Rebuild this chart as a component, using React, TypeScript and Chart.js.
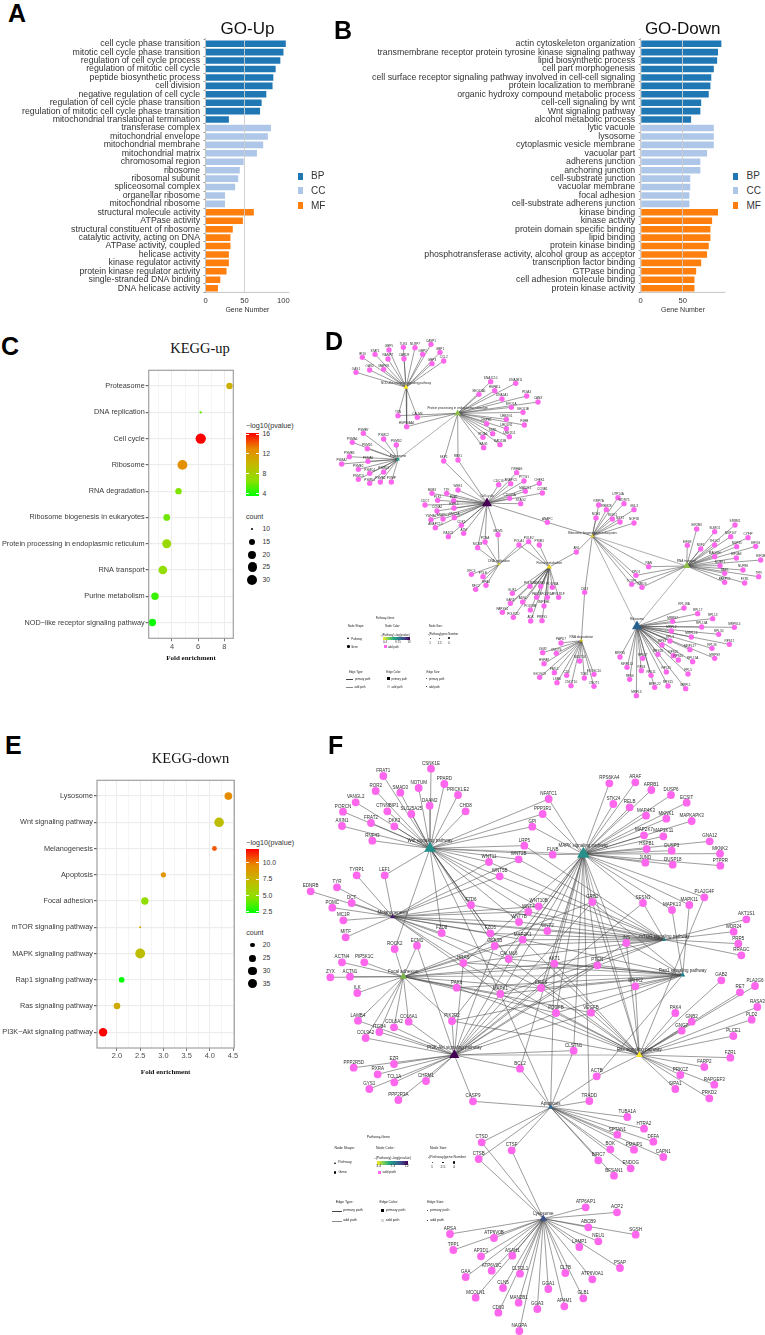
import React, { useEffect, useRef } from "react";
import { Chart, registerables } from "chart.js";
Chart.register(...registerables);

const SANS = '"Liberation Sans", Arial, sans-serif';
const SERIF = '"Liberation Serif", "Times New Roman", serif';

/* ---------- GO bars ---------- */
const groupNames = ["BP", "CC", "MF"];
const groupColors = ["#1f77b4", "#aec7e8", "#ff7f0e"];
const barGroups = [...Array(10).fill(0), ...Array(10).fill(1), ...Array(10).fill(2)];

const upTerms = ["cell cycle phase transition", "mitotic cell cycle phase transition", "regulation of cell cycle process", "regulation of mitotic cell cycle", "peptide biosynthetic process", "cell division", "negative regulation of cell cycle", "regulation of cell cycle phase transition", "regulation of mitotic cell cycle phase transition", "mitochondrial translational termination", "transferase complex", "mitochondrial envelope", "mitochondrial membrane", "mitochondrial matrix", "chromosomal region", "ribosome", "ribosomal subunit", "spliceosomal complex", "organellar ribosome", "mitochondrial ribosome", "structural molecule activity", "ATPase activity", "structural constituent of ribosome", "catalytic activity, acting on DNA", "ATPase activity, coupled", "helicase activity", "kinase regulator activity", "protein kinase regulator activity", "single-stranded DNA binding", "DNA helicase activity"];
const upCounts = [103, 100, 96, 90, 87, 86, 78, 72, 70, 30, 84, 80, 74, 66, 49, 44, 42, 38, 25, 25, 62, 48, 35, 32, 32, 30, 30, 27, 19, 16];
const upTicks = [0, 50, 100];

const downTerms = ["actin cytoskeleton organization", "transmembrane receptor protein tyrosine kinase signaling pathway", "lipid biosynthetic process", "cell part morphogenesis", "cell surface receptor signaling pathway involved in cell-cell signaling", "protein localization to membrane", "organic hydroxy compound metabolic process", "cell-cell signaling by wnt", "Wnt signaling pathway", "alcohol metabolic process", "lytic vacuole", "lysosome", "cytoplasmic vesicle membrane", "vacuolar part", "adherens junction", "anchoring junction", "cell-substrate junction", "vacuolar membrane", "focal adhesion", "cell-substrate adherens junction", "kinase binding", "kinase activity", "protein domain specific binding", "lipid binding", "protein kinase binding", "phosphotransferase activity, alcohol group as acceptor", "transcription factor binding", "GTPase binding", "cell adhesion molecule binding", "protein kinase activity"];
const downCounts = [96, 92, 91, 87, 84, 83, 81, 72, 71, 60, 87, 87, 87, 79, 71, 71, 59, 59, 58, 58, 92, 85, 83, 83, 81, 79, 72, 66, 64, 64];
const downTicks = [0, 50];

/* ---------- KEGG bubbles ---------- */
const keggUpPathways = ["Proteasome", "DNA replication", "Cell cycle", "Ribosome", "RNA degradation", "Ribosome biogenesis in eukaryotes", "Protein processing in endoplasmic reticulum", "RNA transport", "Purine metabolism", "NOD\u2212like receptor signaling pathway"];
const keggUpFold = [8.4, 6.2, 6.2, 4.8, 4.5, 3.6, 3.6, 3.3, 2.7, 2.5];
const keggUpLogP = [10.5, 6, 16, 12.5, 6.5, 6.2, 7.5, 7, 5, 4];
const keggUpCount = [15, 10, 32, 29, 15, 16, 24, 23, 18, 18];
const upLegendCounts = [10, 15, 20, 25, 30];
const upLegendRadii = [1.2, 3.2, 4, 4.6, 5];

const keggDownPathways = ["Lysosome", "Wnt signaling pathway", "Melanogenesis", "Apoptosis", "Focal adhesion", "mTOR signaling pathway", "MAPK signaling pathway", "Rap1 signaling pathway", "Ras signaling pathway", "PI3K\u2212Akt signaling pathway"];
const keggDownFold = [4.4, 4.2, 4.1, 3.0, 2.6, 2.5, 2.5, 2.1, 2.0, 1.7];
const keggDownLogP = [9.5, 7, 10.5, 9, 5, 8, 7, 2.5, 8, 12];
const keggDownCount = [28, 35, 21, 22, 27, 15, 36, 23, 25, 30];
const downLegendCounts = [20, 25, 30, 35];
const downLegendRadii = [2.2, 3.3, 4.2, 4.8];

const heatStops = ["#00ff00", "#8fe000", "#c4b900", "#e88a00", "#ff0000"];

/* ---------- Network D: [name, x, y], [name, x, y, hub indexes] ---------- */
const dHubs: [string, number, number][] = [
  ["NOD-like receptor signaling pathway", 258, 172], ["Protein processing in endoplasmic reticulum", 413, 250], ["Proteasome", 234, 388],
  ["Cell cycle", 501, 520], ["DNA replication", 537, 703], ["Purine metabolism", 688, 711], ["Ribosome biogenesis in eukaryotes", 817, 618],
  ["RNA transport", 1100, 708], ["Ribosome", 951, 889], ["RNA degradation", 784, 932],
];
const dHubLinks = [[1, 2], [6, 7], [6, 8], [7, 8]];
const dGenes: [string, number, number, number[]][] = [
  ["OAS1", 108, 127, [0]], ["IFI16", 127, 82, [0]], ["STAT1", 165, 73, [0]], ["OAS2", 149, 120, [0]], ["MAPK8", 191, 118, [0]], ["GBP5", 207, 60, [0]], ["NAMPT", 204, 87, [0]], ["TLR4", 250, 52, [0]], ["CARD9", 252, 86, [0]], ["NLRP7", 285, 53, [0]], ["GBP2", 308, 73, [0]], ["CASP1", 333, 43, [0]], ["GBP3", 336, 101, [0]], ["GBP1", 360, 67, [0]], ["CCL2", 371, 93, [0]],
  ["TXN", 234, 257, [0, 1]], ["CALM3", 292, 262, [0, 1]], ["HSP90AA1", 260, 290, [0, 1]],
  ["DNAJC10", 512, 155, [1]], ["DNAJB11", 587, 160, [1]], ["SEC61A1", 477, 193, [1]], ["HSPA1L", 524, 182, [1]], ["DNAJA1", 546, 207, [1]], ["PDIA4", 620, 198, [1]], ["CANX", 654, 216, [1]], ["ERO1A", 574, 232, [1]], ["SEC61B", 609, 247, [1]], ["UBE2G1", 559, 268, [1]], ["HSPH1", 500, 281, [1]], ["P4HB", 613, 285, [1]], ["UBQLN1", 559, 296, [1]], ["SSR1", 518, 311, [1]], ["PDIA6", 489, 322, [1]], ["UBE2D1", 568, 320, [1]], ["RAD23B", 540, 344, [1]], ["BAG1", 491, 353, [1]],
  ["SKP1", 371, 393, [1, 3]], ["RBX1", 414, 390, [1, 3]],
  ["PSMB7", 130, 310, [2]], ["PSMC2", 191, 327, [2]], ["PSMD2", 229, 345, [2]], ["PSMA4", 97, 337, [2]], ["PSMD1", 142, 356, [2]], ["PSMB5", 88, 380, [2]], ["PSMA6", 144, 394, [2]], ["PSMA2", 65, 402, [2]], ["PSME2", 115, 418, [2]], ["PSMC4", 149, 430, [2]], ["PSMD3", 191, 426, [2]], ["PSMC3", 115, 448, [2]], ["PSMD4", 149, 460, [2]], ["PSMB2", 181, 456, [2]], ["POMP", 214, 456, [2]],
  ["YWHAG", 590, 428, [3]], ["CDC16", 536, 464, [3]], ["ANAPC5", 572, 461, [3]], ["PTTG1", 612, 453, [3]], ["CHEK1", 658, 460, [3]], ["CCNB1", 667, 489, [3]], ["MAD2L1", 616, 484, [3]], ["CDC25A", 569, 505, [3]], ["STAG2", 602, 521, [3]], ["WEE1", 414, 480, [3]], ["BUB3", 336, 490, [3]], ["TTK", 380, 490, [3]], ["BUB1", 401, 512, [3]], ["CDC7", 315, 525, [3]], ["PLK1", 353, 511, [3]], ["CCNA2", 351, 543, [3]], ["ESPL1", 402, 534, [3]], ["YWHAZ", 333, 569, [3]], ["ANAPC1", 369, 567, [3]], ["SMC1A", 403, 563, [3]], ["ANAPC10", 346, 593, [3]], ["RAD21", 385, 620, [3]], ["CDK1", 424, 586, [3]], ["ATM", 431, 610, [3]],
  ["MCM3", 473, 653, [3, 4]], ["PCNA", 495, 636, [3, 4]], ["MCM5", 534, 614, [3, 4]], ["ANAPC", 682, 577, [3, 6]],
  ["RFC4", 454, 733, [4]], ["POLE", 489, 740, [4]], ["RFC2", 467, 778, [4]], ["RPA1", 498, 766, [4]],
  ["POLA1", 597, 645, [4, 5]], ["POLE2", 626, 635, [4, 5]], ["PRIM1", 658, 645, [5]],
  ["GUK1", 577, 790, [5]], ["POLR2A", 630, 769, [5]], ["NME1", 662, 769, [5]], ["POLR3A", 697, 772, [5]], ["PAICS", 650, 802, [5]], ["POLR1A", 682, 802, [5]], ["POLR1F", 716, 802, [5]], ["ADSL", 608, 816, [5]], ["GART", 571, 820, [5]], ["PAPSS1", 547, 847, [5]], ["POLR2D", 580, 862, [5]], ["POLR3B", 631, 840, [5]], ["IMPDH1", 672, 828, [5]], ["ADK", 632, 873, [5]], ["PRPS1", 666, 872, [5]],
  ["AK6", 769, 666, [5, 6]],
  ["RRP7A", 836, 525, [6]], ["RBM28", 859, 539, [6]], ["UTP14A", 894, 503, [6]], ["WDR75", 912, 521, [6]], ["NOB1", 828, 564, [6]], ["RIOK1", 877, 567, [6]], ["NXT1", 900, 576, [6]], ["GNL3", 942, 539, [6]], ["NOP58", 942, 579, [6]],
  ["DIS3", 794, 787, [6, 9]], ["RAN", 986, 710, [6, 7]], ["XPO1", 948, 736, [6, 7]], ["TCOF1", 935, 763, [6, 7]], ["NMD3", 966, 772, [6, 7]],
  ["EIF2B3", 1130, 597, [7]], ["EIF4E", 1102, 646, [7]], ["NXF1", 1142, 657, [7]], ["SUMO2", 1184, 605, [7]], ["SRRM1", 1245, 585, [7]], ["NUP107", 1232, 620, [7]], ["CYFIP", 1284, 623, [7]], ["THOC2", 1184, 645, [7]], ["NUP35", 1250, 650, [7]], ["EIF3G", 1307, 649, [7]], ["MAGOH", 1184, 680, [7]], ["EIF5B", 1322, 690, [7]], ["EIF4A3", 1249, 684, [7]], ["NCBP1", 1200, 707, [7]], ["NUP88", 1269, 720, [7]], ["RAE1", 1214, 730, [7]], ["TPR", 1316, 740, [7]], ["PABPC1", 1214, 757, [7]], ["FXR1", 1274, 759, [7]],
  ["RPL18A", 1092, 834, [8]], ["RPL17", 1133, 851, [8]], ["RPL13", 1178, 866, [8]], ["MRPS7", 1058, 874, [8]], ["RPL13A", 1145, 891, [8]], ["MRPS14", 1243, 892, [8]], ["MRPL2", 1054, 903, [8]], ["RPL30", 1196, 913, [8]], ["MRPL16", 1114, 921, [8]], ["RPL3", 1050, 933, [8]], ["RPS17", 1228, 943, [8]], ["RPS3", 1026, 945, [8]], ["MRPL17", 1110, 959, [8]], ["RPL36", 1176, 955, [8]], ["MRPS9", 1184, 985, [8]], ["RPS20", 1060, 977, [8]], ["RPS18", 1014, 973, [8]], ["RPL15A", 1118, 995, [8]], ["RPS10", 1075, 990, [8]], ["MRPS5", 900, 981, [8]], ["RPS27", 968, 985, [8]], ["MRPL13", 921, 1012, [8]], ["RPL8", 964, 1022, [8]], ["RPL11", 993, 1036, [8]], ["RPL35", 1039, 1026, [8]], ["RPL5", 1104, 1032, [8]], ["RPS15", 1044, 1068, [8]], ["MRPL22", 1004, 1072, [8]], ["RPS6", 929, 1048, [8]], ["MRPL1", 1097, 1076, [8]], ["MRPL3", 949, 1097, [8]],
  ["PAPD7", 723, 939, [9]], ["LSM2", 668, 968, [9]], ["CNOT6", 709, 970, [9]], ["HSPA9", 672, 1001, [9]], ["NUDT16", 779, 993, [9]], ["EXOSC8", 659, 1042, [9]], ["PATL1", 703, 1028, [9]], ["C1D", 740, 1036, [9]], ["EXOSC10", 822, 1033, [9]], ["LSM6", 711, 1058, [9]], ["CNOT10", 753, 1067, [9]], ["TOB1", 793, 1044, [9]], ["CNOT1", 822, 1069, [9]],
];
const dHubRadius = [3, 3.8, 2.3, 5.8, 2, 3, 2.3, 4.2, 5.8, 2.3];
const dHubColor = ["#fde725", "#8cbf4a", "#1f9e89", "#440154", "#d8d030", "#ecd51c", "#d9c92c", "#8fc04a", "#26618e", "#cdbf28"];

/* ---------- Network F ---------- */
const fHubs: [string, number, number][] = [
  ["Wnt signaling pathway", 330, 355], ["MAPK signaling pathway", 790, 372], ["Melanogenesis", 218, 560], ["mTOR signaling pathway", 1033, 629],
  ["Rap1 signaling pathway", 1088, 735], ["Focal adhesion", 250, 740], ["PI3K-Akt signaling pathway", 403, 975], ["Ras signaling pathway", 958, 975],
  ["Apoptosis", 692, 1132], ["Lysosome", 670, 1466],
];
const fHubLinks = [[6, 7], [5, 4], [0, 1], [2, 3], [1, 7]];
const fGenes: [string, number, number, number[]][] = [
  ["FRAT1", 190, 138, [0]], ["CSNK1E", 333, 116, [0]], ["ROR2", 167, 183, [0]], ["SMAD3", 241, 188, [0]], ["NOTUM", 296, 174, [0]], ["PPARD", 373, 162, [0]], ["PRICKLE2", 414, 195, [0]], ["VANGL2", 107, 217, [0]], ["DAAM2", 329, 227, [0]], ["CHD8", 437, 244, [0]], ["PORCN", 69, 245, [0]], ["CTNNBIP1", 202, 244, [0]], ["SLC25A25", 274, 252, [0]], ["AXIN1", 66, 288, [0]], ["FRAT2", 153, 279, [0]], ["DKK3", 223, 289, [0]], ["RNF43", 157, 332, [0]],
  ["NFATC1", 686, 207, [0, 1]], ["PPP3R1", 668, 252, [0, 1]], ["GPI", 637, 290, [0, 1]], ["LRP5", 613, 347, [0, 3]], ["FLNB", 698, 374, [0, 1]],
  ["WNT11", 507, 396, [0, 2, 3]], ["WNT2B", 596, 388, [0, 2, 3]], ["WNT5B", 539, 439, [0, 2, 3]], ["FZD6", 453, 525, [0, 2, 3]], ["FZD5", 511, 610, [0, 2, 3]], ["FZD8", 365, 609, [0, 2]], ["WNT7B", 597, 576, [0, 2, 3]], ["WNT4", 625, 545, [0, 2, 3]], ["WNT10B", 656, 529, [0, 2, 3]], ["WNT2", 682, 603, [1, 2, 3]],
  ["GSK3B", 524, 648, [0, 3, 5, 6]], ["MAP2K1", 608, 629, [1, 2, 3, 4, 5, 6, 7]], ["CALML6", 566, 687, [0, 1, 2, 4, 7]], ["HRAS", 430, 699, [1, 2, 3, 4, 5, 6, 7]], ["AKT1", 703, 701, [1, 3, 4, 5, 6, 7, 8]], ["PTEN", 832, 706, [1, 4, 5, 6]], ["INS", 919, 639, [3, 4, 6, 7]], ["GRB2", 817, 516, [1, 4, 5, 6, 7]], ["SESN3", 969, 519, [1, 3, 6]], ["MAPK13", 1056, 540, [1, 4]], ["MAPK11", 1108, 525, [1, 4]], ["PLA2G4F", 1153, 502, [1, 7]], ["SPHK2", 946, 769, [1, 4, 7]], ["KRAS", 663, 774, [1, 2, 3, 4, 5, 6, 7]], ["MAPK1", 541, 792, [0, 1, 2, 3, 4, 5, 6, 7, 8]], ["PAK6", 410, 773, [4, 5, 7]], ["PDGFB", 708, 849, [1, 4, 5, 6, 7]], ["VEGFB", 813, 848, [4, 5, 6, 7]], ["ROCK2", 224, 657, [0, 5]], ["ECM1", 291, 647, [5, 6]], ["PIK3R2", 396, 873, [1, 4, 5, 6, 7]],
  ["RPS6KA4", 868, 160, [1]], ["ARAF", 946, 157, [1]], ["ARRB1", 994, 180, [1]], ["DUSP6", 1053, 195, [1]], ["ECSIT", 1100, 218, [1]], ["STK24", 880, 222, [1]], ["RELB", 929, 232, [1]], ["MAP4K3", 978, 257, [1]], ["MKNK1", 1039, 266, [1]], ["MAPKAPK3", 1115, 273, [1]], ["MAP2K7", 972, 316, [1]], ["MAP3K11", 1030, 319, [1]], ["HSPB1", 980, 357, [1]], ["DUSP3", 1055, 362, [1]], ["GNA12", 1169, 334, [1]], ["MKNK2", 1200, 371, [1]], ["JUND", 976, 398, [1]], ["DUSP18", 1058, 404, [1]], ["PTPRR", 1201, 407, [1]],
  ["TYRP1", 110, 436, [2]], ["LEF1", 194, 436, [0, 2]], ["TYR", 51, 472, [2]], ["DCT", 95, 519, [2]], ["EDNRB", -28, 484, [2]], ["POMC", 37, 533, [2]], ["MC1R", 70, 571, [2]], ["MITF", 77, 622, [2]],
  ["AKT1S1", 1279, 568, [3]], ["WDR24", 1241, 605, [3]], ["PRR5", 1255, 641, [3]], ["RRAGC", 1264, 676, [3]],
  ["ACTN4", 66, 697, [5]], ["PIP5K1C", 133, 697, [5]], ["ACTN1", 90, 740, [5]], ["ZYX", 31, 742, [5]], ["ILK", 112, 789, [5]],
  ["LAMB4", 114, 872, [5, 6]], ["ITGB4", 178, 906, [5, 6]], ["COL6A2", 222, 892, [5, 6]], ["COL9A2", 137, 924, [5, 6]], ["COL6A1", 266, 875, [5, 6]],
  ["PPP2R5D", 101, 1013, [6]], ["EZR", 222, 1002, [6]], ["RXRA", 173, 1033, [6]], ["TCL1A", 223, 1057, [6]], ["GYS1", 148, 1077, [6]], ["CHRM1", 318, 1053, [6]], ["PPP2R3A", 235, 1110, [6]],
  ["CASP9", 459, 1114, [6, 8]], ["BCL2", 600, 1016, [1, 6, 8]], ["CLSTN1", 761, 962, [1, 6, 8]], ["ACTB", 830, 1039, [4, 7, 8]], ["TRADD", 808, 1113, [1, 8]],
  ["PLA2G6", 1305, 768, [7]], ["GAB2", 1204, 751, [7]], ["RET", 1260, 787, [7]], ["RASA3", 1312, 831, [7]], ["PLD2", 1295, 869, [7]], ["PAK4", 1066, 849, [7]], ["GNB2", 1115, 875, [7]], ["GNG7", 1085, 902, [7]], ["PLCE1", 1240, 918, [7]], ["FZR1", 1231, 983, [7]], ["FARP2", 1153, 1011, [7]], ["PRKCZ", 1081, 1035, [7]], ["RAPGEF3", 1183, 1064, [7]], ["SIPA1", 1066, 1077, [7]], ["PRKD2", 1168, 1105, [7]],
  ["TUBA1A", 922, 1161, [8]], ["HTRA2", 972, 1196, [8]], ["SPTAN1", 892, 1214, [8]], ["DFFA", 1000, 1235, [8]], ["BOK", 871, 1258, [8]], ["PMAIP1", 942, 1259, [8]], ["CAPN1", 1030, 1281, [8]], ["BIRC7", 835, 1291, [8]], ["ENDOG", 932, 1315, [8]], ["BFSAN1", 882, 1337, [8]],
  ["CTSD", 485, 1237, [8, 9]], ["CTSB", 476, 1287, [8, 9]], ["CTSF", 575, 1261, [8, 9]],
  ["ATP6AP1", 797, 1432, [9]], ["ACP2", 891, 1447, [9]], ["ABCB9", 805, 1492, [9]], ["SGSH", 947, 1514, [9]], ["NEU1", 835, 1534, [9]], ["LAMP1", 778, 1551, [9]], ["PSAP", 900, 1614, [9]], ["ATP6V0A1", 817, 1648, [9]], ["CLTB", 736, 1629, [9]], ["GLB1", 790, 1705, [9]], ["GGA1", 685, 1677, [9]], ["AP4M1", 733, 1729, [9]], ["GGA3", 652, 1737, [9]], ["MAN2B1", 596, 1718, [9]], ["NAGPA", 598, 1803, [9]], ["CD63", 535, 1748, [9]], ["MCOLN1", 467, 1703, [9]], ["CLN5", 549, 1674, [9]], ["CLTCL1", 600, 1631, [9]], ["ATP6V0C", 515, 1622, [9]], ["GAA", 437, 1641, [9]], ["ASAH1", 577, 1577, [9]], ["AP3D1", 483, 1579, [9]], ["TPP1", 400, 1560, [9]], ["ATP6V0B", 522, 1524, [9]], ["ARSA", 390, 1512, [9]],
];
const fHubRadius = [6.7, 7.3, 3, 2.3, 3, 4.2, 5.8, 3.8, 3, 4.2];
const fHubColor = ["#21908c", "#26908a", "#481a6c", "#1f7f8a", "#217f8e", "#7ab648", "#440154", "#fde725", "#31688e", "#3b528b"];

/* ---------- helpers ---------- */
type Box = { left: number; top: number; width: number; height: number };
type Plot = { l: number; t: number; r: number; b: number };

function hexToRgb(h: string) {
  return [1, 3, 5].map((i) => parseInt(h.slice(i, i + 2), 16));
}
function heat(v: number, lo: number, hi: number) {
  const t = Math.max(0, Math.min(1, (v - lo) / (hi - lo))) * (heatStops.length - 1);
  const i = Math.min(heatStops.length - 2, Math.floor(t));
  const a = hexToRgb(heatStops[i]);
  const b = hexToRgb(heatStops[i + 1]);
  const f = t - i;
  return `rgb(${a.map((c, k) => Math.round(c + (b[k] - c) * f)).join(",")})`;
}
function radiusFor(count: number, counts: number[], radii: number[]) {
  let i = 0;
  while (i < counts.length - 2 && count > counts[i + 1]) i++;
  const r = radii[i] + ((radii[i + 1] - radii[i]) * (count - counts[i])) / (counts[i + 1] - counts[i]);
  return Math.max(1, r);
}
const fixW = (w: number) => (s: any) => { s.width = w; s.paddingTop = 0; s.paddingBottom = 0; };
const fixH = (h: number) => (s: any) => { s.height = h; s.paddingLeft = 0; s.paddingRight = 0; };

const frame = (color: string, w: number) => ({
  id: "frame",
  afterDatasetsDraw(chart: any) {
    const { left, top, right, bottom } = chart.chartArea;
    const c = chart.ctx;
    c.save();
    c.strokeStyle = color;
    c.lineWidth = w;
    c.strokeRect(left, top, right - left, bottom - top);
    c.restore();
  },
});

const axisLines = {
  id: "axisLines",
  afterDatasetsDraw(chart: any) {
    const { left, top, right, bottom } = chart.chartArea;
    const c = chart.ctx;
    c.save();
    c.strokeStyle = "#c4c4c4";
    c.lineWidth = 1;
    c.beginPath();
    c.moveTo(left, top - 1.5);
    c.lineTo(left, bottom);
    c.lineTo(right, bottom);
    c.stroke();
    c.restore();
  },
};

const nodeLabels = {
  id: "nodeLabels",
  afterDatasetsDraw(chart: any) {
    const c = chart.ctx;
    c.save();
    c.textAlign = "center";
    c.textBaseline = "middle";
    chart.data.datasets.forEach((ds: any, i: number) => {
      if (!ds.nodeLabels) return;
      c.font = `${ds.labelSize}px ${SANS}`;
      c.fillStyle = "#2b2b2b";
      chart.getDatasetMeta(i).data.forEach((el: any, k: number) => {
        const r = Array.isArray(ds.pointRadius) ? ds.pointRadius[k] : ds.pointRadius;
        c.fillText(ds.nodeLabels[k], el.x, el.y - r - ds.labelGap);
      });
    });
    c.restore();
  },
};

function barConfig(terms: string[], counts: number[], tickValues: number[], box: Box, plot: Plot, xMax: number): any {
  return {
    type: "bar",
    data: {
      labels: terms,
      datasets: [{
        label: "Gene Number",
        data: counts,
        backgroundColor: barGroups.map((g) => groupColors[g]),
        barPercentage: 0.78,
        categoryPercentage: 1,
      }],
    },
    options: {
      indexAxis: "y",
      animation: false,
      responsive: false,
      layout: { autoPadding: false, padding: { left: 0, top: plot.t - box.top, right: box.left + box.width - plot.r, bottom: 0 } },
      plugins: { legend: { display: false }, tooltip: { enabled: false } },
      scales: {
        x: {
          min: 0,
          max: xMax,
          afterBuildTicks: (s: any) => { s.ticks = tickValues.map((value) => ({ value })); },
          afterFit: fixH(box.top + box.height - plot.b),
          border: { display: false },
          grid: { z: 1, drawTicks: false, lineWidth: 1, color: (c: any) => (c.tick && c.tick.value === 50 ? "rgba(205,205,205,0.9)" : "rgba(0,0,0,0)") },
          ticks: { autoSkip: false, maxRotation: 0, padding: 4, color: "#333333", font: { family: SANS, size: 7.6 } },
          title: { display: true, text: "Gene Number", color: "#333333", font: { family: SANS, size: 7 }, padding: 0 },
        },
        y: {
          afterFit: fixW(plot.l - box.left),
          border: { display: false },
          grid: { drawOnChartArea: false, tickLength: 2, tickColor: "#999999" },
          ticks: { autoSkip: false, padding: 3.5, color: "#333333", font: { family: SANS, size: 8.75 } },
        },
      },
    },
    plugins: [axisLines],
  };
}

function bubbleConfig(cats: string[], fold: number[], logp: number[], count: number[], lo: number, hi: number, counts: number[], radii: number[], box: Box, plot: Plot, xMin: number, xMax: number, step: number, major: number, decimals: number): any {
  const isMajor = (v: number) => Math.abs(v / major - Math.round(v / major)) < 1e-6;
  return {
    type: "bubble",
    data: {
      datasets: [{
        label: "Fold enrichment",
        data: fold.map((x, i) => ({ x, y: i, r: radiusFor(count[i], counts, radii) })),
        backgroundColor: logp.map((p) => heat(p, lo, hi)),
        borderWidth: 0,
        clip: false,
      }],
    },
    options: {
      animation: false,
      responsive: false,
      layout: { autoPadding: false, padding: { left: 0, top: plot.t - box.top, right: box.left + box.width - plot.r, bottom: 0 } },
      plugins: { legend: { display: false }, tooltip: { enabled: false } },
      scales: {
        x: {
          type: "linear",
          min: xMin,
          max: xMax,
          afterFit: fixH(box.top + box.height - plot.b),
          border: { display: false },
          grid: {
            tickLength: 3,
            lineWidth: (c: any) => (c.tick && isMajor(c.tick.value) ? 0.9 : 0.5),
            color: "#ebebeb",
            tickColor: (c: any) => (c.tick && isMajor(c.tick.value) ? "#666666" : "rgba(0,0,0,0)"),
          },
          ticks: {
            stepSize: step,
            includeBounds: false,
            autoSkip: false,
            maxRotation: 0,
            padding: 1,
            color: "#4d4d4d",
            font: { family: SANS, size: 7.4 },
            callback: (v: number) => (isMajor(v) ? v.toFixed(decimals) : ""),
          },
          title: { display: true, text: "Fold enrichment", color: "#111111", font: { family: SERIF, size: 7, weight: "bold" }, padding: 0 },
        },
        y: {
          type: "linear",
          reverse: true,
          min: -0.6,
          max: cats.length - 0.4,
          afterFit: fixW(plot.l - box.left),
          border: { display: false },
          grid: { tickLength: 3, lineWidth: 1.2, color: "#ededed", tickColor: "#666666" },
          ticks: {
            stepSize: 1,
            includeBounds: false,
            autoSkip: false,
            padding: 1,
            color: "#3a3a3a",
            font: { family: SANS, size: 7.3 },
            callback: (v: number) => cats[v],
          },
        },
      },
    },
    plugins: [frame("#a0a0a0", 1.2)],
  };
}

function netConfig(hubs: [string, number, number][], genes: [string, number, number, number[]][], links: number[][], hubRadius: number[], hubColor: string[], xMin: number, xMax: number, yMax: number, geneRadius: number, labelSize: number, geneGap: number): any {
  const gap = { x: NaN, y: NaN };
  const edges: any[] = [];
  genes.forEach(([, x, y, hs]) => hs.forEach((h) => edges.push({ x: hubs[h][1], y: hubs[h][2] }, { x, y }, gap)));
  const heavy: any[] = [];
  links.forEach(([a, b]) => heavy.push({ x: hubs[a][1], y: hubs[a][2] }, { x: hubs[b][1], y: hubs[b][2] }, gap));
  return {
    type: "scatter",
    data: {
      datasets: [
        { label: "pathways", data: hubs.map((h) => ({ x: h[1], y: h[2] })), pointStyle: "triangle", pointRadius: hubRadius, pointBackgroundColor: hubColor, pointBorderWidth: 0, nodeLabels: hubs.map((h) => h[0]), labelSize, labelGap: 1, clip: false },
        { label: "genes", data: genes.map((g) => ({ x: g[1], y: g[2] })), pointStyle: "circle", pointRadius: geneRadius, pointBackgroundColor: "#ff66ee", pointBorderWidth: 0, nodeLabels: genes.map((g) => g[0]), labelSize, labelGap: geneGap, clip: false },
        { label: "primary path", data: edges, showLine: true, spanGaps: false, borderColor: "#4a4a4a", borderWidth: 0.55, pointRadius: 0 },
        { label: "add path", data: heavy, showLine: true, spanGaps: false, borderColor: "#9a9a9a", borderWidth: 0.8, pointRadius: 0 },
      ],
    },
    options: {
      animation: false,
      responsive: false,
      layout: { autoPadding: false, padding: 0 },
      plugins: { legend: { display: false }, tooltip: { enabled: false } },
      scales: {
        x: { type: "linear", display: false, min: xMin, max: xMax },
        y: { type: "linear", display: false, reverse: true, min: 0, max: yMax },
      },
    },
    plugins: [nodeLabels],
  };
}

function ChartCanvas({ box, make }: { box: Box; make: () => any }) {
  const ref = useRef<HTMLCanvasElement>(null);
  useEffect(() => {
    const chart = new Chart(ref.current as HTMLCanvasElement, make());
    return () => chart.destroy();
  }, []);
  return <canvas ref={ref} width={box.width} height={box.height} style={{ position: "absolute", left: box.left, top: box.top, width: box.width, height: box.height }} />;
}

/* text helpers */
function Txt({ t, x, y, size, color = "#333333", font = SANS, weight = "normal", align = "center" }: any) {
  const tx = align === "center" ? "-50%" : "0";
  return <span style={{ position: "absolute", left: x, top: y, transform: `translate(${tx},-50%)`, fontSize: size, color, fontFamily: font, fontWeight: weight, whiteSpace: "nowrap", lineHeight: 1 }}>{t}</span>;
}
function Letter({ t, x, base }: { t: string; x: number; base: number }) {
  return <span style={{ position: "absolute", left: x, top: base - 21, fontSize: 25, fontWeight: "bold", color: "#000", fontFamily: SANS, lineHeight: "25px" }}>{t}</span>;
}
function Rect({ x, y, w, h, c, style }: any) {
  return <div style={{ position: "absolute", left: x, top: y, width: w, height: h, background: c, ...style }} />;
}
function Dot({ x, y, r, c = "#000" }: any) {
  return <div style={{ position: "absolute", left: x - r, top: y - r, width: 2 * r, height: 2 * r, borderRadius: "50%", background: c }} />;
}

function GroupLegend({ sx, tx }: { sx: number; tx: number }) {
  return (
    <>
      {groupNames.map((g, i) => (
        <React.Fragment key={g}>
          <Rect x={sx} y={172.5 + i * 14.8} w={5} h={7} c={groupColors[i]} />
          <Txt t={g} x={tx} y={176 + i * 14.8} size={10} align="left" />
        </React.Fragment>
      ))}
    </>
  );
}

function HeatLegend({ x, titleY, top, bottom, ticks, tickYs, countY, counts, radii, rowYs }: any) {
  return (
    <>
      <Txt t={"\u2212log10(pvalue)"} x={x} y={titleY} size={7.2} align="left" />
      <Rect x={x} y={top} w={12.5} h={bottom - top} c={`linear-gradient(to top, ${heatStops.join(",")})`} />
      {ticks.map((t: string, i: number) => (
        <React.Fragment key={t}>
          <Rect x={x} y={tickYs[i] - 0.25} w={2.5} h={0.5} c="#fff" />
          <Rect x={x + 10} y={tickYs[i] - 0.25} w={2.5} h={0.5} c="#fff" />
          <Txt t={t} x={x + 16.5} y={tickYs[i]} size={6.8} align="left" />
        </React.Fragment>
      ))}
      <Txt t="count" x={x} y={countY} size={7} align="left" />
      {counts.map((c: number, i: number) => (
        <React.Fragment key={c}>
          <Dot x={x + 6.3} y={rowYs[i]} r={radii[i]} />
          <Txt t={String(c)} x={x + 16.5} y={rowYs[i]} size={6.8} align="left" />
        </React.Fragment>
      ))}
    </>
  );
}

/* Network legend: u(x), v(y) convert from the crop grid to page pixels */
function NetLegend({ ox, oy, s, p }: { ox: number; oy: number; s: number; p: any }) {
  const u = (x: number) => ox + x / 3;
  const v = (y: number) => oy + y / 3;
  const T = (t: string, x: number, y: number) => <Txt key={t + x + y} t={t} x={u(x)} y={v(y)} size={s} color="#222" />;
  return (
    <>
      {T("Pathway-Gene", p.head[0], p.head[1])}
      {T("Node Shape:", p.c1, p.r0)}
      {T("Node Color:", p.c2, p.r0)}
      {T("Node Size:", p.c3, p.r0)}
      <div style={{ position: "absolute", left: u(p.sx) - 1.4, top: v(p.r1) - 1.4, width: 0, height: 0, borderLeft: "1.4px solid transparent", borderRight: "1.4px solid transparent", borderBottom: "2.6px solid #000" }} />
      {T("Pathway", p.pathX, p.r1)}
      <Dot x={u(p.sx)} y={v(p.r2)} r={1.3} />
      {T("Gene", p.geneX, p.r2)}
      {T("-(Pathway) -log(pvalue)", p.cbLabelX, p.cbLabelY)}
      <Rect x={u(p.cb[0])} y={v(p.cb[2])} w={(p.cb[1] - p.cb[0]) / 3} h={(p.cb[3] - p.cb[2]) / 3} c="linear-gradient(to right,#fde725,#7ad151,#22a884,#2a788e,#414487,#440154)" />
      {p.cbTicks.map((t: [string, number]) => T(t[0], t[1], p.cbTickY))}
      <Rect x={u(p.addSq[0]) - 1.2} y={v(p.r2) - 1.2} w={2.4} h={2.4} c="#ff66ee" />
      {T("add path", p.addSq[1], p.r2)}
      {T("-(Pathway)gene Number", p.nsLabelX, p.nsLabelY)}
      {p.nsDots.map((d: [string, number, number], i: number) => (
        <React.Fragment key={i}>
          <Dot x={u(d[1])} y={v(p.nsY)} r={d[2]} />
          {T(d[0], d[1], p.nsTickY)}
        </React.Fragment>
      ))}
      {T("Edge Type:", p.c1, p.e0)}
      {T("Edge Color:", p.ec, p.e0)}
      {T("Edge Size:", p.es, p.e0)}
      <Rect x={u(p.lx[0])} y={v(p.e1)} w={(p.lx[1] - p.lx[0]) / 3} h={0.5} c="#444" />
      <Rect x={u(p.lx[0])} y={v(p.e2)} w={(p.lx[1] - p.lx[0]) / 3} h={0.5} c="#888" />
      {T("primary path", p.pp[0], p.e1)}
      {T("add path", p.ap[0], p.e2)}
      <Rect x={u(p.sq) - 1.3} y={v(p.e1 - 2) - 1.3} w={2.6} h={2.6} c="#000" />
      <Rect x={u(p.sq) - 1.3} y={v(p.e2 - 2) - 1.3} w={2.6} h={2.6} c="#d9d9d9" />
      {T("primary path", p.pp[1], p.e1)}
      {T("add path", p.ap[1], p.e2)}
      <Dot x={u(p.dotX)} y={v(p.e1 - 2)} r={0.4} />
      <Dot x={u(p.dotX)} y={v(p.e2 - 2)} r={0.6} />
      {T("primary path", p.pp[2], p.e1)}
      {T("add path", p.ap[2], p.e2)}
    </>
  );
}

const dLegend = { head: [195, 863], c1: 108, c2: 218, c3: 347, r0: 889, sx: 85, r1: 926, r2: 950, pathX: 110, geneX: 103, cbLabelX: 226, cbLabelY: 914, cb: [190, 270, 921, 929], cbTicks: [["0.4", 195], ["9.75", 234], ["19", 267]], cbTickY: 937, addSq: [197, 220], nsLabelX: 369, nsLabelY: 912, nsDots: [["1", 330, 0.4], ["2.5", 359, 0.7], ["4", 386, 1]], nsY: 925, nsTickY: 938, e0: 1027, ec: 221, es: 340, lx: [78, 100], e1: 1048, e2: 1071, pp: [128, 238, 350], ap: [120, 231, 343], sq: 205, dotX: 320 };
const fLegend = { head: [175, 355], c1: 74, c2: 196, c3: 356, r0: 387, sx: 45, r1: 430, r2: 458, pathX: 75, geneX: 68, cbLabelX: 218, cbLabelY: 416, cb: [170, 265, 424, 434], cbTicks: [["3.4", 176], ["7.3", 218], ["12", 260]], cbTickY: 442, addSq: [179, 208], nsLabelX: 381, nsLabelY: 413, nsDots: [["1", 336, 0.4], ["2.5", 369, 0.8], ["4", 402, 1.2]], nsY: 428, nsTickY: 444, e0: 549, ec: 206, es: 347, lx: [37, 65], e1: 574, e2: 603, pp: [99, 227, 359], ap: [90, 218, 351], sq: 188, dotX: 323 };

const boxA: Box = { left: 0, top: 30, width: 300, height: 284 };
const plotA: Plot = { l: 205.5, t: 39.5, r: 289.3, b: 292.4 };
const boxB: Box = { left: 335, top: 30, width: 395, height: 284 };
const plotB: Plot = { l: 640.7, t: 39.5, r: 725.3, b: 292.4 };
const boxC: Box = { left: 0, top: 360, width: 240, height: 302 };
const plotC: Plot = { l: 148.7, t: 370.3, r: 233.3, b: 638.3 };
const boxE: Box = { left: 0, top: 770, width: 240, height: 306 };
const plotE: Plot = { l: 97, t: 780.3, r: 234.3, b: 1048 };
const boxD: Box = { left: 320, top: 330, width: 445, height: 370 };
const boxF: Box = { left: 300, top: 730, width: 465, height: 605 };

export default function App() {
  return (
    <div style={{ position: "absolute", left: 0, top: 0, width: 765, height: 1335, overflow: "hidden", background: "#fff" }}>
      <ChartCanvas box={boxD} make={() => netConfig(dHubs, dGenes, dHubLinks, dHubRadius, dHubColor, 0, 1335, 1110, 2.7, 3.1, 0.7)} />
      <ChartCanvas box={boxF} make={() => netConfig(fHubs, fGenes, fHubLinks, fHubRadius, fHubColor, -60, 1335, 1815, 3.9, 4.5, 1.3)} />
      <ChartCanvas box={boxA} make={() => barConfig(upTerms, upCounts, upTicks, boxA, plotA, 107.5)} />
      <ChartCanvas box={boxB} make={() => barConfig(downTerms, downCounts, downTicks, boxB, plotB, 100.7)} />
      <ChartCanvas box={boxC} make={() => bubbleConfig(keggUpPathways, keggUpFold, keggUpLogP, keggUpCount, 3.8, 16, upLegendCounts, upLegendRadii, boxC, plotC, 2.22, 8.69, 1, 2, 0)} />
      <ChartCanvas box={boxE} make={() => bubbleConfig(keggDownPathways, keggDownFold, keggDownLogP, keggDownCount, 2.5, 12, downLegendCounts, downLegendRadii, boxE, plotE, 1.569, 4.528, 0.25, 0.5, 1)} />

      <Letter t="A" x={8} base={22} />
      <Letter t="B" x={334} base={39} />
      <Letter t="C" x={1} base={355} />
      <Letter t="D" x={325} base={350} />
      <Letter t="E" x={5} base={754} />
      <Letter t="F" x={328} base={754} />

      <Txt t="GO-Up" x={247.5} y={28} size={17} color="#111" />
      <Txt t="GO-Down" x={682.7} y={28} size={17} color="#111" />
      <Txt t="KEGG-up" x={200} y={348} size={14.5} color="#111" font={SERIF} />
      <Txt t="KEGG-down" x={190.5} y={758} size={14.5} color="#111" font={SERIF} />

      <GroupLegend sx={297.5} tx={311} />
      <GroupLegend sx={733} tx={746.5} />

      <HeatLegend x={246} titleY={426.3} top={433.3} bottom={496} ticks={["16", "12", "8", "4"]} tickYs={[433.8, 453.5, 473.7, 493.7]} countY={516} counts={upLegendCounts} radii={upLegendRadii} rowYs={[529, 542, 554.7, 567, 579.7]} />
      <HeatLegend x={246.3} titleY={842.7} top={849.3} bottom={912.7} ticks={["10.0", "7.5", "5.0", "2.5"]} tickYs={[862.7, 879, 895.7, 911.7]} countY={932} counts={downLegendCounts} radii={downLegendRadii} rowYs={[945.3, 958.3, 970.7, 983.7]} />

      <NetLegend ox={320} oy={330} s={2.8} p={dLegend} />
      <NetLegend ox={320} oy={1020} s={3.5} p={fLegend} />
    </div>
  );
}
